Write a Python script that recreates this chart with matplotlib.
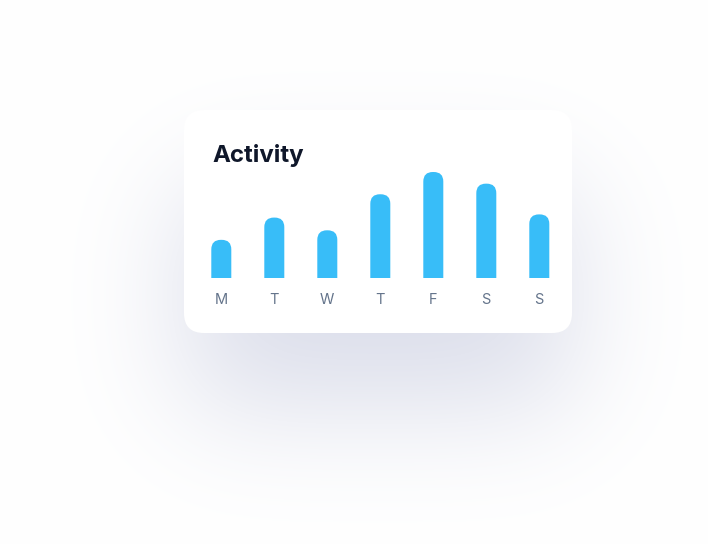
import numpy as np
import matplotlib
matplotlib.use('Agg')
import matplotlib.pyplot as plt
from matplotlib.patches import FancyBboxPatch

# ─────────────────────────────────────────────
# DATA
# ─────────────────────────────────────────────
days   = ['M', 'T', 'W', 'T', 'F', 'S', 'S']
values = [36, 57, 45, 79, 100, 89, 60]      # activity, % of best day
title  = 'Activity'

# ─────────────────────────────────────────────
# LAYOUT (figure pixels)
# ─────────────────────────────────────────────
W, H = 708, 544
DPI  = 100
card = dict(x=184, y=110, w=388, h=223, r=20)
bar_color   = '#38bdf8'
label_color = '#64748b'
title_color = '#0f172a'

plt.rcParams['font.family'] = ['Inter', 'DejaVu Sans']

fig = plt.figure(figsize=(W / DPI, H / DPI), dpi=DPI)
fig.patch.set_facecolor('white')

# background axes in pixel units (y downwards)
bg = fig.add_axes([0, 0, 1, 1])
bg.set_xlim(0, W)
bg.set_ylim(H, 0)
bg.axis('off')

# ── soft drop shadow under the card ──────────
sh_dy, sh_sigma, sh_alpha = 75, 60, 0.17
sh_rgb = np.array([45, 60, 135]) / 255.
PAD = 5 * sh_sigma

def rounded_mask(x0, y0, w, h, r):
    yy, xx = np.mgrid[-PAD:H + PAD, -PAD:W + PAD] + 0.5
    cx, cy = x0 + w / 2, y0 + h / 2
    dx = np.maximum(np.abs(xx - cx) - (w / 2 - r), 0)
    dy = np.maximum(np.abs(yy - cy) - (h / 2 - r), 0)
    return (np.hypot(dx, dy) <= r).astype(float)

def blur(a, s):
    t = np.arange(-5 * s, 5 * s + 1)
    k = np.exp(-0.5 * (t / s) ** 2)
    k /= k.sum()
    a = np.apply_along_axis(lambda v: np.convolve(v, k, mode='same'), 1, a)
    a = np.apply_along_axis(lambda v: np.convolve(v, k, mode='same'), 0, a)
    return a

cov = blur(rounded_mask(card['x'], card['y'] + sh_dy, card['w'], card['h'], card['r']),
           sh_sigma)[PAD:PAD + H, PAD:PAD + W] * sh_alpha
img = 1.0 - cov[..., None] * (1.0 - sh_rgb[None, None, :])
bg.imshow(np.clip(img, 0, 1), extent=(0, W, H, 0), interpolation='bilinear', zorder=0)

# ── card ─────────────────────────────────────
bg.add_patch(FancyBboxPatch((card['x'], card['y']), card['w'], card['h'],
                            boxstyle=f"round,pad=0,rounding_size={card['r']}",
                            facecolor='white', edgecolor='none', zorder=1))

bg.text(212, 162, title, fontsize=17.3, fontweight='bold', color=title_color,
        ha='left', va='baseline', zorder=2)

# ── bar chart axes ───────────────────────────
slot     = 53.0                  # px per day
x_left   = 221.3 - slot / 2
baseline = 278
top_px   = 172                   # pixel row of max value
ax = fig.add_axes([x_left / W, (H - baseline) / H,
                   slot * len(days) / W, (baseline - top_px) / H])
ax.set_xlim(-0.5, len(days) - 0.5)
ax.set_ylim(0, max(values))
ax.patch.set_alpha(0)
for s in ax.spines.values():
    s.set_visible(False)
ax.set_yticks([])

bw = 20 / slot                   # bar width in data units
rad = 9.5 / slot                 # corner radius in x data units
y_per_px = max(values) / (baseline - top_px)
aspect = y_per_px * slot         # y units per x unit, for round corners
below = 12 * y_per_px            # hide the bottom corners under the axis

for i, v in enumerate(values):
    ax.add_patch(FancyBboxPatch((i - bw / 2, -below), bw, v + below,
                                boxstyle=f"round,pad=0,rounding_size={rad}",
                                mutation_aspect=aspect, clip_on=True,
                                facecolor=bar_color, edgecolor='none', zorder=3))

ax.set_xticks(range(len(days)))
ax.set_xticklabels(days, fontsize=10.5, color=label_color)
ax.tick_params(axis='x', length=0, pad=11)

fig.savefig('out.png', dpi=DPI, facecolor='white')
